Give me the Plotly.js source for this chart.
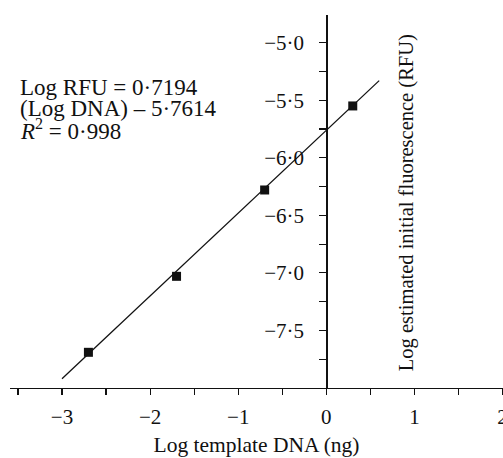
<!DOCTYPE html>
<html>
<head>
<meta charset="utf-8">
<script src="https://cdn.plot.ly/plotly-3.0.1.min.js"></script>
<style>html,body{margin:0;padding:0;background:#fff;}#chart{width:503px;height:458px;}</style>
</head>
<body>
<div id="chart"></div>
<script>
// Data
const logDNA = [-2.7, -1.7, -0.7, 0.3];
const logRFU = [-7.69, -7.03, -6.28, -5.55];
const fitX = [-3.0, 0.6];
const fitY = [-7.92, -5.33];

const xTickVals = [-3.5, -3, -2.5, -2, -1.5, -1, -0.5, 0, 0.5, 1, 1.5, 2];
const xTickText = ['', '\u22123', '', '\u22122', '', '\u22121', '', '0', '', '1', '', '2'];
const yTickVals = [-7.75, -7.5, -7.25, -7.0, -6.75, -6.5, -6.25, -6.0, -5.75, -5.5, -5.25, -5.0];
const yTickText = ['', '\u22127\u00b75', '', '\u22127\u00b70', '', '\u22126\u00b75', '', '\u22126\u00b70', '', '\u22125\u00b75', '', '\u22125\u00b70'];

const eqLines = ['Log RFU = 0\u00b77194', '(Log DNA) \u2013 5\u00b77614', '<i>R</i><sup>2</sup> = 0\u00b7998'];
const xTitle = 'Log template DNA (ng)';
const yTitle = 'Log estimated initial fluorescence (RFU)';

const FONT = 'Liberation Serif, Times New Roman, serif';
const xRange = [-3.59, 2.005];
const yRange = [-8.0, -4.76];
const yAxisPos = (0 - xRange[0]) / (xRange[1] - xRange[0]);

const traces = [
  {x: fitX, y: fitY, mode: 'lines', line: {color: '#111', width: 1.3}, hoverinfo: 'skip', showlegend: false},
  {x: logDNA, y: logRFU, mode: 'markers', marker: {symbol: 'square', size: 9, color: '#111'}, showlegend: false}
];

const eqY = [87, 108, 129];
const annotations = eqLines.map((t, i) => ({
  text: t, xref: 'paper', yref: 'paper', x: (18 - 10) / 493, y: (388 - eqY[i]) / 373,
  xanchor: 'left', yanchor: 'middle', showarrow: false,
  font: {family: FONT, size: 23, color: '#111'}
}));
annotations.push({
  text: yTitle, xref: 'x', yref: 'y', x: 0.91, y: -6.39, textangle: -90,
  xanchor: 'center', yanchor: 'middle', showarrow: false,
  font: {family: FONT, size: 20.5, color: '#111'}
});

const layout = {
  width: 503, height: 458,
  margin: {l: 10, r: 0, t: 15, b: 70},
  paper_bgcolor: '#fff', plot_bgcolor: '#fff',
  font: {family: FONT, size: 20, color: '#111'},
  xaxis: {
    range: xRange, showgrid: false, zeroline: false,
    showline: true, linecolor: '#111', linewidth: 1.2,
    ticks: 'outside', ticklen: 6, tickwidth: 1.2, tickcolor: '#111',
    tickmode: 'array', tickvals: xTickVals, ticktext: xTickText,
    tickfont: {family: FONT, size: 21, color: '#111'},
    ticklabelstandoff: 4, ticklabeloverflow: 'allow',
    title: {text: xTitle, font: {family: FONT, size: 21.5, color: '#111'}, standoff: 8}
  },
  yaxis: {
    range: yRange, showgrid: false, zeroline: false,
    anchor: 'free', position: yAxisPos,
    showline: true, linecolor: '#111', linewidth: 1.2,
    ticks: 'outside', ticklen: 7, tickwidth: 1.2, tickcolor: '#111',
    tickmode: 'array', tickvals: yTickVals, ticktext: yTickText,
    tickfont: {family: FONT, size: 21, color: '#111'},
    ticklabelstandoff: 11
  },
  annotations: annotations,
  showlegend: false
};

Plotly.newPlot('chart', traces, layout, {staticPlot: true, displayModeBar: false});
</script>
</body>
</html>
